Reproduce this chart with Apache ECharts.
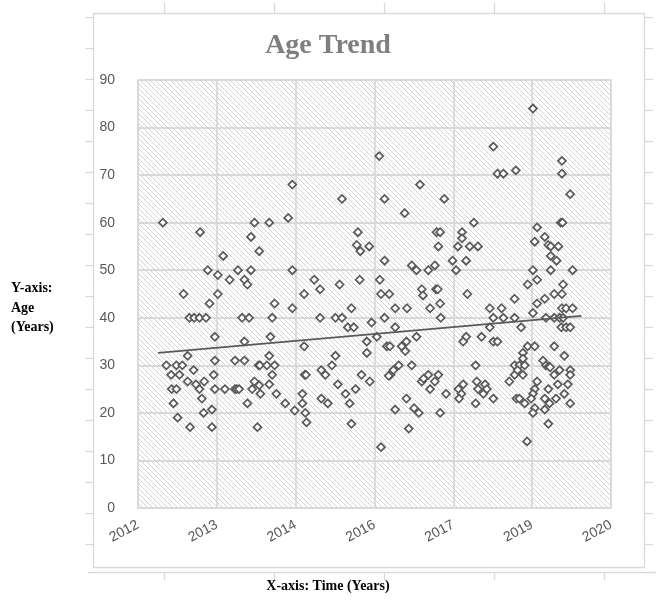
<!DOCTYPE html>
<html><head><meta charset="utf-8">
<script src="https://cdn.jsdelivr.net/npm/echarts@6/dist/echarts.min.js"></script>
<style>html,body{margin:0;padding:0;background:#fff}#c{width:656px;height:604px}</style>
</head><body><div id="c"></div>
<script>
// ---- data ----
const xTickLabels = ['2012', '2013', '2014', '2016', '2017', '2019', '2020'];
const axisStartYear = 2012;
const axisEndYear = 2020;
const yTicks = [0, 10, 20, 30, 40, 50, 60, 70, 80, 90];

const years = [
  2012.42,2013.05,2013.44,2013.18,2013.35,2013.55,2013.69,2012.77,2013.35,2013.21,
  2012.87,2012.95,2013.04,2013.15,2013.30,2012.84,2013.30,2013.64,2012.48,2012.65,
  2012.75,2012.56,2012.70,2012.94,2012.84,2012.98,2013.12,2013.28,2013.04,2012.57,
  2012.65,2013.30,2013.47,2013.64,2013.67,2013.71,2013.08,2012.60,2013.11,2013.25,
  2012.67,2012.88,2013.25,
  2014.61,2014.54,2013.97,2014.22,2013.91,2014.05,2013.91,2014.61,2013.80,2013.85,
  2014.98,2015.08,2014.81,2014.31,2014.61,2013.76,2013.88,2014.27,2015.08,2014.24,
  2013.80,2014.81,2013.80,2014.22,2014.04,2014.06,2014.18,2014.31,2014.27,2013.97,
  2014.05,2014.22,2013.93,2014.07,2013.85,2014.34,2014.49,2014.65,2014.78,2014.78,
  2014.83,2014.85,2014.02,2014.82,2014.84,2015.10,2015.17,2015.10,2015.21,
  2016.08,2016.77,2015.45,2016.17,2016.51,2015.72,2015.70,2015.76,2015.91,2016.17,
  2016.63,2016.71,2015.41,2015.75,2016.09,2016.11,2016.25,2016.80,2016.82,2015.61,
  2016.35,2016.55,2015.34,2015.45,2016.17,2015.55,2015.65,2015.95,2016.35,2016.04,
  2015.87,2015.87,2016.21,2016.26,2016.46,2016.54,2016.52,2016.71,2015.34,2015.28,
  2015.78,2015.92,2016.27,2016.32,2016.41,2016.24,2016.63,2016.80,2015.38,2015.51,
  2015.68,2015.58,2016.35,2016.54,2016.67,2016.75,2015.61,2016.58,2016.11,
  2018.01,2018.08,2018.18,2018.39,2017.18,2017.68,2017.05,2017.11,2017.48,2017.48,
  2017.08,2017.41,2017.61,2017.75,2017.32,2017.55,2016.91,2017.02,2017.38,2017.04,
  2017.07,2017.11,2016.94,2017.12,2017.57,2018.37,2017.95,2018.15,2018.01,2018.18,
  2018.37,2017.95,2017.55,2017.50,2017.81,2018.01,2018.08,2017.71,2016.91,2017.08,
  2016.83,2017.02,2016.94,2017.21,2017.11,2017.42,2017.50,2017.47,2017.43,2017.73,
  2017.75,2017.87,2017.90,2017.84,2018.01,2017.71,2018.28,2018.37,2018.37,2018.40,
  2018.68,2019.17,2019.17,2019.31,2019.15,2019.18,2018.75,2018.88,2018.71,2018.94,
  2018.98,2019.11,2018.98,2019.08,2018.68,2018.98,2019.35,2018.59,2018.75,2019.19,
  2019.04,2019.17,2018.88,2018.75,2018.68,2019.17,2019.24,2019.35,2018.90,2019.04,
  2019.13,2019.19,2019.16,2019.24,2019.31,2018.48,2018.59,2018.71,2018.51,2019.04,
  2019.21,2018.85,2018.90,2018.95,2018.97,2019.13,2019.31,2019.31,2019.04,2018.51,
  2018.45,2018.54,2018.42,2018.51,2018.75,2018.71,2019.10,2019.27,2018.94,2018.68,
  2018.65,2018.45,2018.54,2018.88,2018.96,2019.07,2019.21,2019.31,2018.71,2018.68,
  2018.88,2018.94,2018.58
];
const ages = [
  60,58,53,50,49,48,50,45,45,43,
  40,40,40,40,36,32,31,31,30,30,
  30,28,28,29,26.6,26,26.6,28,25,25,
  25,25,25,25,25,25,23,22,20,20.7,
  19,17,17,
  68,61,60,60,57,54,50,50,48,47,
  48,46,45,43,42,40,40,40,40,36,
  35,34,31,32,30,30,30,30,28,26.6,
  25.8,26,25,24,22,24,22,20.5,24,22,
  20,18,17,28,28,29,28,23,22,
  74,68,65,65,62,58,55.3,54,55,52,
  51,50,47,48,48,45,45,46,44.7,42,
  42,42,40,40,40,38,38,39,38,36,
  35,32.6,34,34,34,35,33,36,32,30,
  28,26.6,28,29,30,27.8,30,26.6,26,24,
  25,22,20.7,23,21,20,17.7,16.7,12.8,
  76,70.3,70.3,71,65,60,58,58,58,56.7,
  55,55,55,55,52,52,50,51,50,46,
  46,43,42,40,45,44,42,42,40,40,
  40,38,36,35,36,35,35,30,28,28,
  27.2,26.6,25,24,20,25,26,24,23,26.6,
  25,26,25,24,23,22,26.6,30,28,23,
  84,73,70.3,66,60,60,59,57,56,55.3,
  55,55,53,52,50,50,50,47,48,47,
  45,45,44,43,41,42,42,42,40,40,
  40,40,38,38,38,38,34,34,32.6,34,
  32,31,30,29.8,29.6,29,29,28,28,31.4,
  30,30,29,28,26.6,25,26,26,25,24,
  23,23,22,23,22,23,24,22,21,20,
  20.7,17.7,14
];
const trendYears = [2012.34, 2019.50];
const trendAges = [32.6, 40.4];

// ---- build ----
const yearsPerTick = (axisEndYear - axisStartYear) / (xTickLabels.length - 1);
const toAxis = y => (y - axisStartYear) / yearsPerTick;
const points = years.map((y, i) => [toAxis(y), ages[i]]);
const trend = trendYears.map((y, i) => [toAxis(y), trendAges[i]]);

// hatch pattern
const tile = document.createElement('canvas');
tile.width = 5; tile.height = 5;
const tc = tile.getContext('2d');
tc.fillStyle = '#ffffff'; tc.fillRect(0, 0, 5, 5);
tc.fillStyle = '#d3d3d3';
for (let i = 0; i < 5; i++) tc.fillRect(i, i, 1, 1);

// frame decorations
const frameColor = '#d9d9d9';
const deco = [];
deco.push({type: 'rect', shape: {x: 93.5, y: 13.5, width: 551, height: 554}, style: {fill: null, stroke: frameColor, lineWidth: 1.3}, silent: true});
deco.push({type: 'line', shape: {x1: 88, y1: 572.5, x2: 656, y2: 572.5}, style: {stroke: frameColor, lineWidth: 1.3}, silent: true});
for (let k = 0; k < 18; k++) {
  const y = 17.5 + 31 * k;
  deco.push({type: 'line', shape: {x1: 85, y1: y, x2: 93, y2: y}, style: {stroke: frameColor, lineWidth: 1.3}, silent: true});
  deco.push({type: 'line', shape: {x1: 645, y1: y, x2: 653, y2: y}, style: {stroke: frameColor, lineWidth: 1.3}, silent: true});
}
for (let k = 0; k < 5; k++) {
  const x = 164.5 + 110 * k;
  deco.push({type: 'line', shape: {x1: x, y1: 3, x2: x, y2: 13}, style: {stroke: frameColor, lineWidth: 1.3}, silent: true});
  deco.push({type: 'line', shape: {x1: x, y1: 572, x2: x, y2: 580}, style: {stroke: frameColor, lineWidth: 1.3}, silent: true});
}
deco.push({type: 'text', left: 11, top: 279, style: {text: 'Y-axis:\nAge\n(Years)', font: 'bold 14px "Liberation Serif"', fill: '#000', lineHeight: 19.5}, silent: true});
deco.push({type: 'text', left: 'center', top: 579, style: {text: 'X-axis: Time (Years)', font: 'bold 14px "Liberation Serif"', fill: '#000', x: 0}, silent: true});

const chart = echarts.init(document.getElementById('c'), null, {renderer: 'canvas'});
chart.setOption({
  animation: false,
  backgroundColor: '#fff',
  title: {
    text: 'Age Trend', left: 'center', top: 27,
    textStyle: {fontFamily: 'Liberation Serif', fontWeight: 'bold', fontSize: 28, color: '#7f7f7f'}
  },
  graphic: deco,
  grid: {
    left: 138, right: 45, top: 80, bottom: 96,
    show: true,
    backgroundColor: {image: tile, repeat: 'repeat'},
    borderColor: '#d9d9d9', borderWidth: 1.5
  },
  xAxis: {
    type: 'value', min: 0, max: xTickLabels.length - 1, interval: 1,
    axisLine: {show: false}, axisTick: {show: false},
    splitLine: {show: true, lineStyle: {color: '#d9d9d9', width: 1.8}},
    axisLabel: {
      formatter: v => xTickLabels[Math.round(v)] || '',
      rotate: 28, margin: 16,
      color: '#595959', fontSize: 14, fontFamily: 'Liberation Sans'
    }
  },
  yAxis: {
    type: 'value', min: yTicks[0], max: yTicks[yTicks.length - 1], interval: yTicks[1] - yTicks[0],
    axisLine: {show: false}, axisTick: {show: false},
    splitLine: {show: true, lineStyle: {color: '#d9d9d9', width: 1.8}},
    axisLabel: {margin: 23, color: '#595959', fontSize: 14, fontFamily: 'Liberation Sans'}
  },
  series: [
    {
      type: 'scatter', data: points, symbol: 'diamond', symbolSize: 8,
      itemStyle: {color: '#ffffff', borderColor: '#595959', borderWidth: 1.7, opacity: 1},
      z: 3
    },
    {
      type: 'line', data: trend, symbol: 'none',
      lineStyle: {color: '#595959', width: 1.8}, z: 4
    }
  ]
});
</script>
</body></html>
